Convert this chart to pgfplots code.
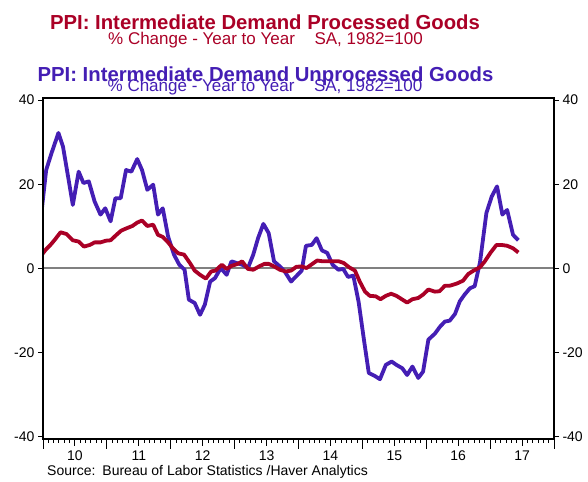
\documentclass[border=0pt]{standalone}
\usepackage{fontspec}
\setmainfont{Liberation Sans}
\usepackage{pgfplots}
\pgfplotsset{compat=1.18}
\definecolor{ppired}{RGB}{170,0,38}
\definecolor{ppiblue}{RGB}{68,30,180}
\begin{document}
\begin{tikzpicture}[x=1bp,y=1bp]
\useasboundingbox (0,0) rectangle (588,482);
\begin{axis}[at={(43bp,43bp)}, anchor=south west, scale only axis,
  width=511bp, height=341bp,
  xmin=0, xmax=96, ymin=-40.5, ymax=40.5,
  axis line style={line width=1.3bp, black},
  tick style={line width=1bp, black},
  tick align=outside,
  xtick={0,12,...,96}, xticklabels={}, xtick pos=bottom,
  minor x tick num=11,
  major tick length=10bp, minor tick length=4bp,
  extra x ticks={6,18,...,90},
  extra x tick labels={10,11,12,13,14,15,16,17},
  extra x tick style={major tick length=7bp},
  ytick=\empty,
  ticklabel style={font=\fontsize{14bp}{16bp}\selectfont},
  xticklabel style={yshift=-1bp},
]
\addplot[gray, line width=2bp] coordinates {(0,0) (96,0)};
\addplot[ppiblue, line width=3.8bp, line join=round] coordinates {
(-0.4,12) (0.6,23.4) (1.6,27.4) (2.9,32.2) (3.75,29) (4.7,21.9) (5.6,15.1) (6.7,23) (7.6,20.3) (8.6,20.7) (9.7,15.9) (10.8,12.8) (11.7,14.3) (12.7,11.2) (13.6,16.7) (14.6,16.7) (15.6,23.4) (16.6,23) (17.7,26) (18.6,23.4) (19.6,18.7) (20.7,19.9) (21.6,12.8) (22.5,14.3) (23.5,7.6) (24.6,3.3) (25.6,0.9) (26.6,-0.3) (27.4,-7.4) (28.5,-8.2) (29.5,-11) (30.4,-8.6) (31.4,-3.1) (32.3,-2.3) (33.4,0.1) (34.5,-1.5) (35.4,1.7) (36.4,1.3) (37.4,0.9) (38.5,0.1) (39.5,3.3) (40.4,7.2) (41.4,10.6) (42.4,8.4) (43.4,1.7) (44.5,0.5) (45.4,-0.7) (46.6,-3.1) (47.6,-1.8) (48.6,-0.5) (49.4,5.4) (50.5,5.6) (51.4,7.2) (52.4,4.3) (53.4,3.7) (54.4,0.9) (55.5,-0.3) (56.4,-0.1) (57.3,-2.0) (58.3,-1.7) (59.3,-8) (60.3,-17) (61.2,-24.8) (62.3,-25.5) (63.3,-26.3) (64.4,-22.9) (65.5,-22.1) (66.4,-22.9) (67.5,-23.7) (68.4,-25.3) (69.4,-23.3) (70.5,-26) (71.4,-24.5) (72.4,-16.9) (73.6,-15.5) (74.6,-13.8) (75.5,-12.6) (76.4,-12.4) (77.4,-10.8) (78.3,-7.8) (79.2,-6.2) (80.2,-4.7) (81.1,-4.2) (82.1,1.5) (83.3,13.2) (84.3,17.1) (85.3,19.5) (86.3,12.8) (87.2,13.9) (88.3,8.0) (89.3,6.7)
};
\addplot[ppired, line width=3.8bp, line join=round] coordinates {
(-0.4,3) (0.6,4.6) (1.4,5.6) (2.2,6.8) (3.3,8.6) (4.4,8.2) (5.6,6.7) (6.7,6.4) (7.7,5.2) (8.8,5.6) (9.7,6.2) (10.8,6.2) (11.8,6.6) (12.7,6.7) (13.8,8.0) (14.7,9.0) (15.8,9.6) (16.8,10.1) (17.7,10.9) (18.6,11.4) (19.6,10.1) (20.7,10.4) (21.6,8.0) (22.5,7.5) (23.5,6.2) (24.4,4.8) (25.4,3.6) (26.5,3.3) (27.6,1.3) (28.5,-0.5) (29.5,-1.5) (30.6,-2.4) (31.6,-0.7) (32.4,-0.5) (33.6,0.9) (34.5,-0.1) (35.4,0.6) (36.6,1.1) (37.4,1.7) (38.5,-0.1) (39.5,-0.3) (40.6,0.5) (41.6,1.1) (42.4,1.1) (43.4,0.5) (44.5,-0.3) (45.6,-0.7) (46.6,-0.5) (47.6,0.4) (48.6,0.5) (49.5,0.1) (50.5,1.0) (51.5,1.9) (52.6,1.7) (53.5,1.7) (54.6,1.7) (55.6,1.7) (56.5,1.3) (57.5,0.3) (58.6,-0.5) (59.5,-3.1) (60.5,-5.5) (61.4,-6.5) (62.5,-6.6) (63.4,-7.3) (64.4,-6.5) (65.4,-6.0) (66.4,-6.5) (67.4,-7.3) (68.4,-8.1) (69.4,-7.3) (70.5,-7.0) (71.4,-6.2) (72.4,-5.0) (73.6,-5.5) (74.5,-5.4) (75.5,-4.1) (76.4,-4.1) (77.7,-3.6) (78.9,-2.9) (79.9,-1.3) (80.9,-0.5) (82.1,0.3) (83.0,1.7) (84.1,3.8) (85.2,5.6) (86.1,5.6) (87.2,5.4) (88.3,4.8) (89.3,3.8)
};
\end{axis}
\begin{axis}[at={(43bp,43bp)}, anchor=south west, scale only axis,
  width=511bp, height=341bp,
  xmin=0, xmax=96, ymin=-40.5, ymax=40.5,
  axis line style={line width=1.3bp, black},
  tick style={line width=1bp, black},
  tick align=outside, major tick length=5bp,
  xtick=\empty,
  ytick={-40,-20,0,20,40}, yticklabels={-40,-20,0,20,40},
  ytick pos=left, yticklabel pos=left,
  ticklabel style={font=\fontsize{14bp}{16bp}\selectfont},
]
\end{axis}
\begin{axis}[at={(43bp,43bp)}, anchor=south west, scale only axis,
  width=511bp, height=341bp,
  xmin=0, xmax=96, ymin=-40.5, ymax=40.5,
  axis line style={line width=1.3bp, black},
  tick style={line width=1bp, black},
  tick align=outside, major tick length=5bp,
  xtick=\empty,
  ytick={-40,-20,0,20,40}, yticklabels={-40,-20,0,20,40},
  ytick pos=right, yticklabel pos=right,
  ticklabel style={font=\fontsize{14bp}{16bp}\selectfont},
]
\end{axis}
\node[anchor=base, text=ppired, font=\fontsize{20.3bp}{22bp}\selectfont\bfseries, inner sep=0pt] at (265,452) {PPI: Intermediate Demand Processed Goods};
\node[anchor=base, text=ppired, font=\fontsize{17bp}{19bp}\selectfont, inner sep=0pt] at (265.5,437.5) {\% Change - Year to Year\hspace{1.15em}SA, 1982=100};
\node[anchor=base, text=ppiblue, font=\fontsize{20.3bp}{22bp}\selectfont\bfseries, inner sep=0pt] at (265.5,400.5) {PPI: Intermediate Demand Unprocessed Goods};
\node[anchor=base, text=ppiblue, font=\fontsize{17bp}{19bp}\selectfont, inner sep=0pt] at (265,390.5) {\% Change - Year to Year\hspace{1.15em}SA, 1982=100};
\node[anchor=base west, font=\fontsize{14bp}{16bp}\selectfont, inner sep=0pt] at (47,6) {Source:\hspace{0.5em}Bureau of Labor Statistics /Haver Analytics};
\end{tikzpicture}
\end{document}
